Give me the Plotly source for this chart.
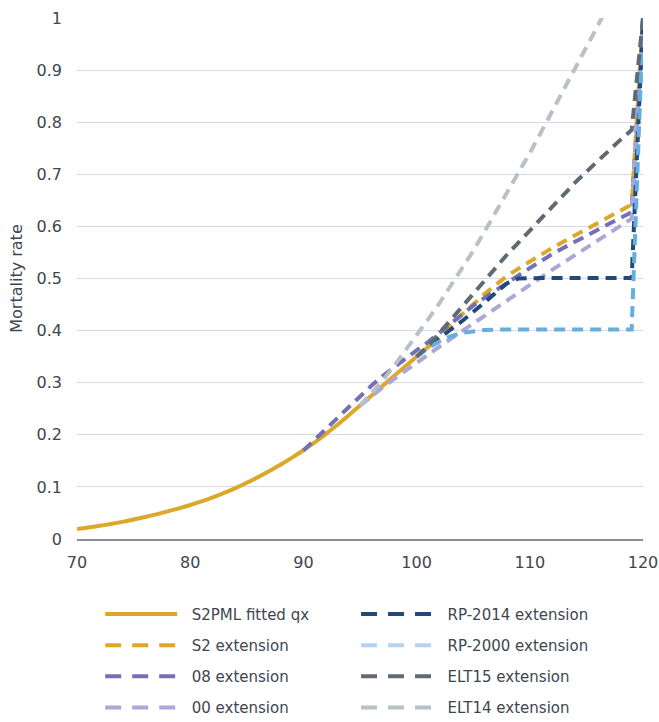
import plotly.graph_objects as go

# Ages and mortality rates (qx) for the fitted curve and each extension method
ages_fitted = list(range(70, 103))
q_fitted = [0.0190, 0.0220, 0.0253, 0.0289, 0.0329, 0.0373, 0.0421, 0.0473, 0.0529, 0.0589,
            0.0653, 0.0723, 0.0800, 0.0885, 0.0978, 0.1079, 0.1188, 0.1305, 0.1430, 0.1563,
            0.1704, 0.1854, 0.2017, 0.2192, 0.2375, 0.2562, 0.2751, 0.2940, 0.3128, 0.3314,
            0.3498, 0.3680, 0.3860]

ages_s2 = list(range(100, 121))
q_s2 = [0.350, 0.369, 0.390, 0.411, 0.431, 0.451, 0.470, 0.488, 0.505, 0.519,
        0.533, 0.546, 0.559, 0.571, 0.583, 0.595, 0.607, 0.619, 0.631, 0.642, 1.0]

ages_08 = list(range(90, 121))
q_08 = [0.170, 0.190, 0.211, 0.232, 0.253, 0.274, 0.294, 0.313, 0.330, 0.346,
        0.362, 0.378, 0.396, 0.414, 0.431, 0.448, 0.463, 0.478, 0.492, 0.506,
        0.520, 0.534, 0.547, 0.559, 0.571, 0.583, 0.594, 0.605, 0.616, 0.627, 1.0]

ages_00 = list(range(95, 121))
q_00 = [0.256, 0.274, 0.291, 0.307, 0.323, 0.339, 0.354, 0.369, 0.384, 0.399,
        0.414, 0.429, 0.444, 0.459, 0.474, 0.489, 0.503, 0.517, 0.531, 0.545,
        0.559, 0.573, 0.587, 0.601, 0.615, 1.0]

ages_rp2014 = list(range(100, 121))
q_rp2014 = [0.350, 0.368, 0.385, 0.402, 0.418, 0.435, 0.454, 0.473, 0.491, 0.500,
            0.501, 0.501, 0.501, 0.501, 0.501, 0.501, 0.501, 0.501, 0.501, 0.501, 1.0]

ages_rp2000 = list(range(100, 121))
q_rp2000 = [0.350, 0.366, 0.379, 0.389, 0.396, 0.399, 0.401, 0.402, 0.402, 0.402,
            0.402, 0.402, 0.402, 0.402, 0.402, 0.402, 0.402, 0.402, 0.402, 0.402, 1.0]

ages_elt15 = list(range(100, 121))
q_elt15 = [0.350, 0.370, 0.395, 0.420, 0.446, 0.472, 0.497, 0.522, 0.546, 0.569,
           0.592, 0.616, 0.640, 0.662, 0.684, 0.705, 0.726, 0.746, 0.766, 0.785, 1.0]

ages_elt14 = list(range(95, 118))
q_elt14 = [0.256, 0.279, 0.304, 0.332, 0.361, 0.391, 0.421, 0.452, 0.485, 0.518,
           0.553, 0.590, 0.627, 0.664, 0.702, 0.741, 0.781, 0.821, 0.862, 0.903,
           0.944, 0.985, 1.027]

x_ticks = [70, 80, 90, 100, 110, 120]
y_ticks = [0, 0.1, 0.2, 0.3, 0.4, 0.5, 0.6, 0.7, 0.8, 0.9, 1]
y_tick_text = ["0", "0.1", "0.2", "0.3", "0.4", "0.5", "0.6", "0.7", "0.8", "0.9", "1"]

FONT = "DejaVu Sans"
TEXT = "#3d4650"
DASH = "11px,7px"          # dash pattern of the plotted lines
KEY_DASH = "16px,11px"     # dash pattern of the legend keys
W = 4
PAD = "\u00a0\u00a0"       # small gap between the legend key and its label

fig = go.Figure()


def add(x, y, name, color, key_color=None, solid=False, legend="legend", shape="linear"):
    # plotted series
    fig.add_trace(go.Scatter(
        x=x, y=y, mode="lines", showlegend=False, hoverinfo="x+y", name=name,
        line=dict(color=color, width=W, dash="solid" if solid else DASH, shape=shape),
    ))
    # legend key for the series
    fig.add_trace(go.Scatter(
        x=[None], y=[None], mode="lines", name=PAD + name, legend=legend,
        legendgroup=name, showlegend=True,
        line=dict(color=key_color or color, width=W, dash="solid" if solid else KEY_DASH),
    ))


add(ages_fitted, q_fitted, "S2PML fitted qx", "#dba82a", solid=True, shape="spline")
add(ages_s2, q_s2, "S2 extension", "#dba82a")
add(ages_08, q_08, "08 extension", "#7470b5")
add(ages_00, q_00, "00 extension", "#aba7d6")
add(ages_rp2014, q_rp2014, "RP-2014 extension", "#224a79", legend="legend2")
add(ages_rp2000, q_rp2000, "RP-2000 extension", "#66ade0", key_color="#b5d3f0",
    legend="legend2")
add(ages_elt15, q_elt15, "ELT15 extension", "#5f6b74", legend="legend2")
add(ages_elt14, q_elt14, "ELT14 extension", "#b9c1c8", legend="legend2")

legend_common = dict(
    orientation="v", yanchor="top", xanchor="left",
    font=dict(family=FONT, size=15, color=TEXT),
    itemwidth=72, tracegroupgap=8.6, bgcolor="rgba(0,0,0,0)",
    itemclick=False, itemdoubleclick=False,
)

fig.update_layout(
    width=659, height=722,
    margin=dict(l=77, r=16, t=18, b=183, autoexpand=False),
    paper_bgcolor="white", plot_bgcolor="white",
    font=dict(family=FONT, size=16, color=TEXT),
    xaxis=dict(
        range=[70, 120], tickmode="array", tickvals=x_ticks,
        showgrid=False, zeroline=False,
        showline=True, linecolor="#878e95", linewidth=1.5,
        ticks="", ticklabelstandoff=8,
        tickfont=dict(family=FONT, size=16, color=TEXT),
    ),
    yaxis=dict(
        range=[0, 1], tickmode="array", tickvals=y_ticks, ticktext=y_tick_text,
        showgrid=True, gridcolor="#d9d7ea", gridwidth=1.3,
        zeroline=False, showline=False, ticks="", ticklabelstandoff=14,
        tickfont=dict(family=FONT, size=16, color=TEXT),
        title=dict(text="Mortality rate", font=dict(family=FONT, size=16, color=TEXT),
                   standoff=9),
    ),
    legend=dict(x=0.041, y=-0.113, **legend_common),
    legend2=dict(x=0.493, y=-0.113, **legend_common),
    showlegend=True,
)

fig.write_html("out.html")
